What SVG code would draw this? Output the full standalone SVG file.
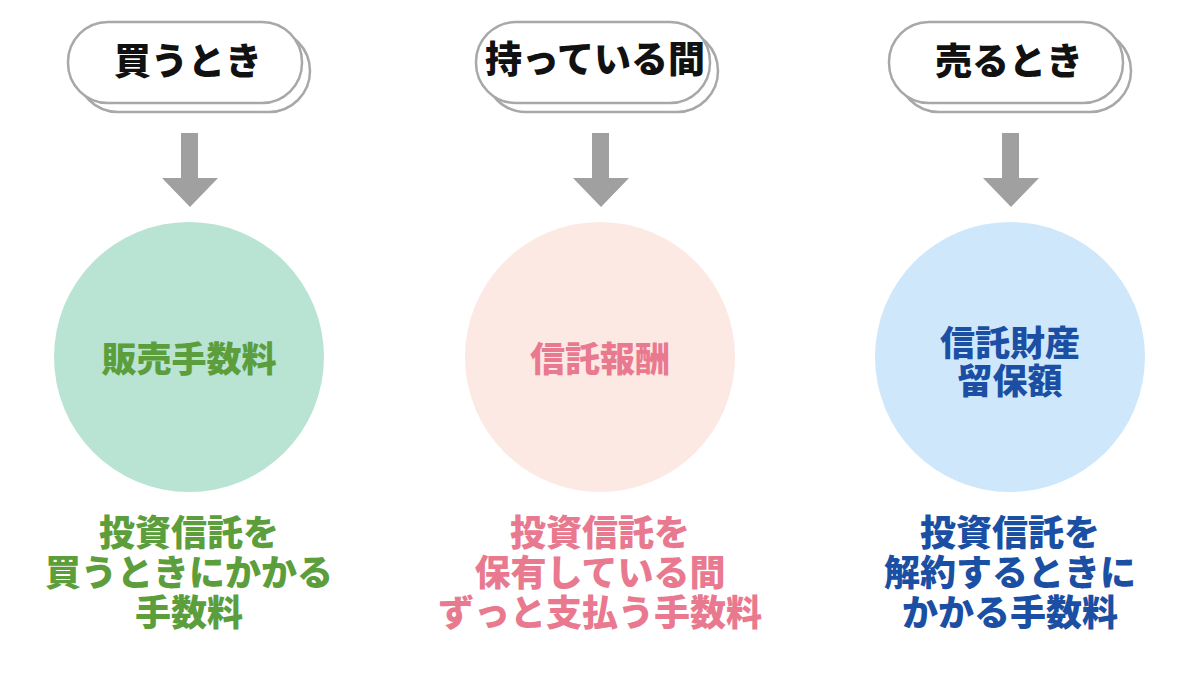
<svg xmlns="http://www.w3.org/2000/svg" width="1200" height="675" viewBox="0 0 1200 675">
<style>
.pill{fill:#fff;stroke:#a8a8a8;stroke-width:2.5}
.h{font-family:"Noto Sans CJK JP",sans-serif;font-weight:900;font-size:37px;fill:#111;text-anchor:middle}
.c{font-family:"Noto Sans CJK JP",sans-serif;font-weight:900;font-size:35px;text-anchor:middle}
.d{font-family:"Noto Sans CJK JP",sans-serif;font-weight:900;font-size:36px;text-anchor:middle}
.arr{fill:#a0a0a0}
</style>
<rect width="1200" height="675" fill="#fff"/>
<g id="head1"><rect class="pill" x="77" y="30" width="233" height="82" rx="41"/><rect class="pill" x="68" y="22" width="234" height="81" rx="40"/><text class="h" x="188" y="75">買うとき</text></g>
<g id="head2"><rect class="pill" x="485" y="30" width="233" height="82" rx="41"/><rect class="pill" x="476" y="22" width="234" height="81" rx="40"/><text class="h" x="595" y="73" font-size="31">持っている間</text></g>
<g id="head3"><rect class="pill" x="898" y="30" width="233" height="82" rx="41"/><rect class="pill" x="889" y="22" width="234" height="81" rx="40"/><text class="h" x="1009" y="75">売るとき</text></g>
<g id="connectors">
<path class="arr" d="M181 133h17v45h20l-28 29l-28-29h19z"/>
<path class="arr" d="M592 133h17v45h20l-28 29l-28-29h19z"/>
<path class="arr" d="M1002 133h17v45h20l-28 29l-28-29h19z"/>
</g>
<g id="circle1"><circle cx="189" cy="357" r="135" fill="#b9e3d3"/><text class="c" x="189" y="372" fill="#5b9e3b">販売手数料</text></g>
<g id="circle2"><circle cx="600" cy="357" r="135" fill="#fde9e4"/><text class="c" x="600" y="372" fill="#e9798f">信託報酬</text></g>
<g id="circle3"><circle cx="1010" cy="357" r="135" fill="#cfe7fb"/><text class="c" x="1010" y="356" fill="#1b4fa3">信託財産</text><text class="c" x="1010" y="394" fill="#1b4fa3">留保額</text></g>
<g id="desc1" class="d" fill="#5b9e3b"><text x="189" y="546">投資信託を</text><text x="189" y="586">買うときにかかる</text><text x="189" y="626">手数料</text></g>
<g id="desc2" class="d" fill="#e9798f"><text x="600" y="546">投資信託を</text><text x="600" y="586">保有している間</text><text x="600" y="626">ずっと支払う手数料</text></g>
<g id="desc3" class="d" fill="#1b4fa3"><text x="1010" y="546">投資信託を</text><text x="1010" y="586">解約するときに</text><text x="1010" y="626">かかる手数料</text></g>
</svg>
